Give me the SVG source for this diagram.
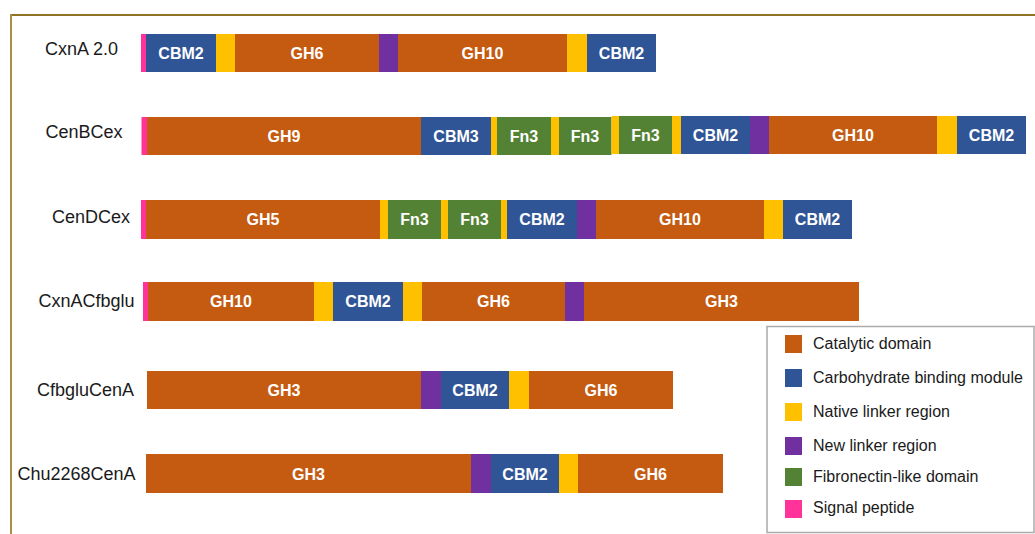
<svg xmlns="http://www.w3.org/2000/svg" width="1035" height="534" viewBox="0 0 1035 534">
  <style>
    .cat { fill: #C55A11; }
    .cbm { fill: #2F5597; }
    .nat { fill: #FFC000; }
    .new { fill: #7030A0; }
    .fn  { fill: #548235; }
    .sig { fill: #FF3399; }
    .seg { font-family: "Liberation Sans", Arial, sans-serif; font-weight: bold; font-size: 16px; fill: #FFFFFF; text-anchor: middle; }
    .name { font-family: "Liberation Sans", Arial, sans-serif; font-size: 18px; fill: #1A1A1A; }
    .leg { font-family: "Liberation Sans", Arial, sans-serif; font-size: 16px; fill: #1A1A1A; }
  </style>

  <rect x="0" y="0" width="1035" height="534" fill="#FFFFFF"/>

  <!-- outer frame -->
  <g id="frame">
    <line x1="11" y1="15" x2="1035" y2="15" stroke="#8F7324" stroke-width="2"/>
    <line x1="11" y1="14" x2="11" y2="534" stroke="#A89048" stroke-width="2"/>
  </g>

  <!-- CxnA 2.0 -->
  <g id="cxna20">
    <text class="name" x="45" y="55">CxnA 2.0</text>
    <rect class="sig" x="141" y="34" width="5" height="38"/>
    <rect class="cbm" x="146" y="34" width="70" height="38"/>
    <rect class="nat" x="216" y="34" width="19" height="38"/>
    <rect class="cat" x="235" y="34" width="144" height="38"/>
    <rect class="new" x="379" y="34" width="19" height="38"/>
    <rect class="cat" x="398" y="34" width="169" height="38"/>
    <rect class="nat" x="567" y="34" width="20" height="38"/>
    <rect class="cbm" x="587" y="34" width="69" height="38"/>
    <text class="seg" x="181" y="58.5">CBM2</text>
    <text class="seg" x="307" y="58.5">GH6</text>
    <text class="seg" x="482.5" y="58.5">GH10</text>
    <text class="seg" x="621.5" y="58.5">CBM2</text>
  </g>

  <!-- CenBCex -->
  <g id="cenbcex">
    <text class="name" x="45.5" y="138">CenBCex</text>
    <rect class="sig" x="141.5" y="117" width="5.5" height="38"/>
    <rect class="cat" x="147" y="117" width="274" height="38"/>
    <rect class="cbm" x="421" y="117" width="70" height="38"/>
    <rect class="nat" x="491" y="117" width="6" height="38"/>
    <rect class="fn" x="497" y="117" width="54" height="38"/>
    <rect class="nat" x="551" y="117" width="8" height="38"/>
    <rect class="fn" x="559" y="117" width="52.5" height="38"/>
    <rect class="nat" x="611.5" y="116" width="7.5" height="38"/>
    <rect class="fn" x="619" y="116" width="53" height="38"/>
    <rect class="nat" x="672" y="116" width="9" height="38"/>
    <rect class="cbm" x="681" y="116" width="69" height="38"/>
    <rect class="new" x="750" y="116" width="19" height="38"/>
    <rect class="cat" x="769" y="116" width="168" height="38"/>
    <rect class="nat" x="937" y="116" width="20" height="38"/>
    <rect class="cbm" x="957" y="116" width="69" height="38"/>
    <text class="seg" x="284" y="141.5">GH9</text>
    <text class="seg" x="456" y="141.5">CBM3</text>
    <text class="seg" x="524" y="141.5">Fn3</text>
    <text class="seg" x="585" y="141.5">Fn3</text>
    <text class="seg" x="645.5" y="141">Fn3</text>
    <text class="seg" x="715.5" y="141">CBM2</text>
    <text class="seg" x="853" y="141">GH10</text>
    <text class="seg" x="991.5" y="141">CBM2</text>
  </g>

  <!-- CenDCex -->
  <g id="cendcex">
    <text class="name" x="52" y="223">CenDCex</text>
    <rect class="sig" x="141" y="200" width="5" height="39"/>
    <rect class="cat" x="146" y="200" width="234" height="39"/>
    <rect class="nat" x="380" y="200" width="8" height="39"/>
    <rect class="fn" x="388" y="200" width="53" height="39"/>
    <rect class="nat" x="441" y="200" width="7" height="39"/>
    <rect class="fn" x="448" y="200" width="53" height="39"/>
    <rect class="nat" x="501" y="200" width="6" height="39"/>
    <rect class="cbm" x="507" y="200" width="70" height="39"/>
    <rect class="new" x="577" y="200" width="19" height="39"/>
    <rect class="cat" x="596" y="200" width="168" height="39"/>
    <rect class="nat" x="764" y="200" width="19" height="39"/>
    <rect class="cbm" x="783" y="200" width="69" height="39"/>
    <text class="seg" x="263" y="225">GH5</text>
    <text class="seg" x="414.5" y="225">Fn3</text>
    <text class="seg" x="474.5" y="225">Fn3</text>
    <text class="seg" x="542" y="225">CBM2</text>
    <text class="seg" x="680" y="225">GH10</text>
    <text class="seg" x="817.5" y="225">CBM2</text>
  </g>

  <!-- CxnACfbglu -->
  <g id="cxnacfbglu">
    <text class="name" x="38.5" y="307">CxnACfbglu</text>
    <rect class="sig" x="143" y="282" width="5" height="39"/>
    <rect class="cat" x="148" y="282" width="166" height="39"/>
    <rect class="nat" x="314" y="282" width="19" height="39"/>
    <rect class="cbm" x="333" y="282" width="70" height="39"/>
    <rect class="nat" x="403" y="282" width="19" height="39"/>
    <rect class="cat" x="422" y="282" width="143" height="39"/>
    <rect class="new" x="565" y="282" width="19" height="39"/>
    <rect class="cat" x="584" y="282" width="275" height="39"/>
    <text class="seg" x="231" y="307">GH10</text>
    <text class="seg" x="368" y="307">CBM2</text>
    <text class="seg" x="493.5" y="307">GH6</text>
    <text class="seg" x="721.5" y="307">GH3</text>
  </g>

  <!-- CfbgluCenA -->
  <g id="cfbglucena">
    <text class="name" x="37" y="395.5">CfbgluCenA</text>
    <rect class="cat" x="147" y="371" width="274" height="38"/>
    <rect class="new" x="421" y="371" width="20" height="38"/>
    <rect class="cbm" x="441" y="371" width="68" height="38"/>
    <rect class="nat" x="509" y="371" width="20" height="38"/>
    <rect class="cat" x="529" y="371" width="144" height="38"/>
    <text class="seg" x="284" y="395.5">GH3</text>
    <text class="seg" x="475" y="395.5">CBM2</text>
    <text class="seg" x="601" y="395.5">GH6</text>
  </g>

  <!-- Chu2268CenA -->
  <g id="chu2268cena">
    <text class="name" x="17.5" y="480">Chu2268CenA</text>
    <rect class="cat" x="146" y="454" width="325" height="39"/>
    <rect class="new" x="471" y="454" width="20" height="39"/>
    <rect class="cbm" x="491" y="454" width="68" height="39"/>
    <rect class="nat" x="559" y="454" width="19" height="39"/>
    <rect class="cat" x="578" y="454" width="145" height="39"/>
    <text class="seg" x="308.5" y="479.5">GH3</text>
    <text class="seg" x="525" y="479.5">CBM2</text>
    <text class="seg" x="650.5" y="479.5">GH6</text>
  </g>

  <!-- legend -->
  <g id="legend">
    <rect x="767" y="326.5" width="267" height="206" fill="#FFFFFF" stroke="#ABABAB" stroke-width="1.5"/>
    <rect class="cat" x="785" y="335" width="17" height="18"/>
    <rect class="cbm" x="785" y="369" width="17" height="18"/>
    <rect class="nat" x="785" y="403" width="17" height="18"/>
    <rect class="new" x="785" y="437" width="17" height="18"/>
    <rect class="fn" x="785" y="468" width="17" height="18"/>
    <rect class="sig" x="785" y="500" width="17" height="18"/>
    <text class="leg" x="813" y="349">Catalytic domain</text>
    <text class="leg" x="813" y="383">Carbohydrate binding module</text>
    <text class="leg" x="813" y="416.5">Native linker region</text>
    <text class="leg" x="813" y="450.5">New linker region</text>
    <text class="leg" x="813" y="481.5">Fibronectin-like domain</text>
    <text class="leg" x="813" y="513">Signal peptide</text>
  </g>
</svg>
